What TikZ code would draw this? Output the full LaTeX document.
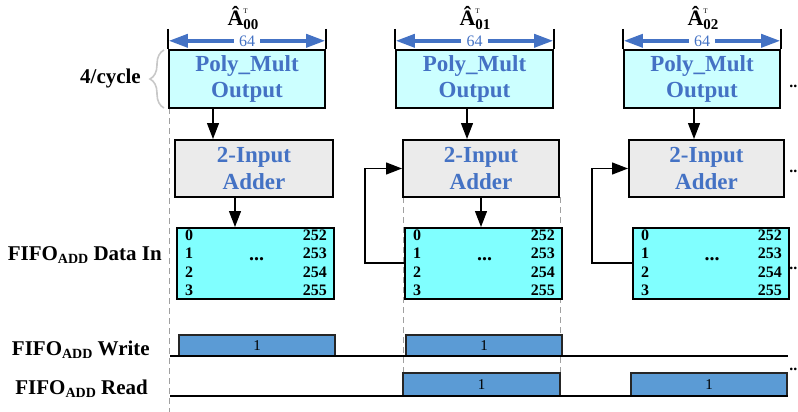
\documentclass[tikz,border=0pt]{standalone}
\usepackage{fontspec}
\setmainfont{Liberation Serif}
\usetikzlibrary{arrows.meta,calc,decorations.pathreplacing}
\definecolor{tblue}{HTML}{4472C4}
\definecolor{polyfill}{HTML}{CCFFFF}
\definecolor{addfill}{HTML}{EBEBEB}
\definecolor{fifofill}{HTML}{80FFFF}
\definecolor{pulsefill}{HTML}{5B9BD5}
\definecolor{dashgray}{HTML}{A0A0A0}
\definecolor{bracegray}{HTML}{C8C8C8}
\newcommand\subADD{\raisebox{-0.3ex}{\fontsize{14}{14}\selectfont ADD}}
\newcommand\Ahat[1]{Â\makebox[0pt][l]{\raisebox{1.2ex}{\fontsize{7}{7}\selectfont\mdseries T}}\raisebox{-0.45ex}{\fontsize{15}{15}\selectfont #1}}
\begin{document}
\begin{tikzpicture}[x=1pt,y=-1pt,
  polybox/.style={draw=black, line width=2.4pt, fill=polyfill, minimum height=58pt, inner sep=0pt, align=center, font=\fontsize{23}{26}\selectfont\bfseries, text=tblue},
  addbox/.style={draw=black, line width=2pt, fill=addfill, minimum height=57pt, inner sep=0pt, align=center, font=\fontsize{23}{27}\selectfont\bfseries, text=tblue},
  fifobox/.style={draw=black, line width=2pt, fill=fifofill, minimum height=71pt, inner sep=0pt},
  fifonum/.style={font=\fontsize{16}{16}\selectfont\bfseries, inner sep=0pt},
  fifodots/.style={font=\fontsize{20}{20}\selectfont\bfseries, inner sep=0pt},
  pulse/.style={draw=black!85, line width=1.2pt, fill=pulsefill, inner sep=0pt, font=\fontsize{15}{15}\selectfont},
  sidelabel/.style={font=\fontsize{21}{21}\selectfont\bfseries, inner sep=0pt, anchor=east},
  toplabel/.style={font=\fontsize{22}{22}\selectfont\bfseries, inner sep=0pt},
  ext/.style={line width=2.4pt},
  dimarrow/.style={draw=tblue, line width=3.5pt, -{Triangle[length=19pt,width=13pt]}},
  dimtext/.style={text=tblue, font=\fontsize{16}{16}\selectfont, inner sep=1pt},
  flow/.style={line width=1.3pt, -{Triangle[length=16pt,width=12pt]}},
  dashline/.style={draw=dashgray, line width=1pt, dash pattern=on 6pt off 4pt},
  baseline/.style={line width=1.8pt},
  dots/.style={font=\fontsize{16}{16}\selectfont\bfseries, inner sep=0pt, anchor=east}
]
\useasboundingbox (0,0) rectangle (798,412);

% dashed guide lines
\coordinate (d1t) at (169,108);
\coordinate (d1b) at (169,412);
\draw[dashline] (d1t) -- (d1b);
\coordinate (d2t) at (403,197);
\coordinate (d2b) at (403,396);
\coordinate (d3t) at (560,197);
\coordinate (d3b) at (560,396);
\draw[dashline] (d2t) -- (d2b);
\draw[dashline] (d3t) -- (d3b);

% top labels
\node[toplabel] (t1) at (243,18) {\Ahat{00}};
\node[toplabel] (t2) at (475,18) {\Ahat{01}};
\node[toplabel] (t3) at (703,18) {\Ahat{02}};

% poly mult boxes
\node[polybox, minimum width=156pt] (p1) at (247,79) {Poly\_Mult\\Output};
\node[polybox, minimum width=157pt] (p2) at (474.5,79) {Poly\_Mult\\Output};
\node[polybox, minimum width=156pt] (p3) at (702,79) {Poly\_Mult\\Output};

% extension lines and dimension arrows
\foreach \p/\n in {p1/1,p2/2,p3/3}{
  \coordinate (el\n) at ($(\p.north west)+(0,-20)$);
  \coordinate (er\n) at ($(\p.north east)+(0,-20)$);
  \draw[ext] (el\n) -- (\p.north west);
  \draw[ext] (er\n) -- (\p.north east);
  \node[dimtext] (dim\n) at ($(\p.north)+(0,-8)$) {64};
  \coordinate (al\n) at ($(\p.north west)+(1,-8)$);
  \coordinate (ar\n) at ($(\p.north east)+(-1,-8)$);
  \draw[dimarrow] ($(dim\n.west)+(-4,0)$) -- (al\n);
  \draw[dimarrow] ($(dim\n.east)+(4,0)$) -- (ar\n);
}

% brace and 4/cycle
\coordinate (bb) at (164,108);
\coordinate (bt) at (164,50);
\draw[bracegray, line width=1.6pt, decorate, decoration={brace, amplitude=14pt, aspect=0.5}] (bb) -- (bt);
\node[sidelabel] (cyc) at (141,78) {4/cycle};

% adders
\node[addbox, minimum width=158pt] (a1) at (254,168.5) {2-Input\\Adder};
\node[addbox, minimum width=156pt] (a2) at (481,168.5) {2-Input\\Adder};
\node[addbox, minimum width=155pt] (a3) at (706.5,168.5) {2-Input\\Adder};

% fifos
\node[fifobox, minimum width=157pt] (f1) at (255.5,263.5) {};
\node[fifobox, minimum width=157pt] (f2) at (483.5,263.5) {};
\node[fifobox, minimum width=156pt] (f3) at (711,263.5) {};
\foreach \f in {f1,f2,f3}{
  \foreach \na/\nb/\dy [count=\i] in {0/252/8,1/253/26,2/254/45,3/255/63}{
    \node[fifonum, anchor=west] (\f l\i) at ($(\f.north west)+(9,\dy)$) {\na};
    \node[fifonum, anchor=east] (\f r\i) at ($(\f.north east)+(-8,\dy)$) {\nb};
  }
  \node[fifodots] (\f dots) at ($(\f.center)+(1,-4)$) {...};
}

% flow arrows
\draw[flow] (p1.south -| 213,0) -- (a1.north -| 213,0);
\draw[flow] (p2.south -| 467,0) -- (a2.north -| 467,0);
\draw[flow] (p3.south -| 694,0) -- (a3.north -| 694,0);
\draw[flow] (a1.south -| 235,0) -- (f1.north -| 235,0);
\draw[flow] (a2.south -| 481,0) -- (f2.north -| 481,0);

% feedback
\coordinate (fb2) at (365,263);
\coordinate (fb3) at (592,263);
\draw[flow] (f2.west |- fb2) -- (fb2) -- (fb2 |- a2.west) -- (a2.west);
\draw[flow] (f3.west |- fb3) -- (fb3) -- (fb3 |- a3.west) -- (a3.west);

% side labels
\node[sidelabel] (ldi) at (162,255) {FIFO\subADD{} Data In};
\node[sidelabel] (lw) at (150,350) {FIFO\subADD{} Write};
\node[sidelabel] (lr) at (148,389) {FIFO\subADD{} Read};

% timing
\coordinate (ws) at (170,356);
\coordinate (we) at (788,356);
\coordinate (rs) at (170,396);
\coordinate (re) at (788,396);
\node[pulse, minimum width=156pt, minimum height=21pt] (w1) at (257,345.5) {1};
\node[pulse, minimum width=156pt, minimum height=21pt] (w2) at (484,345.5) {1};
\node[pulse, minimum width=157pt, minimum height=23pt] (r1) at (481.5,384.5) {1};
\node[pulse, minimum width=156pt, minimum height=23pt] (r2) at (709,384.5) {1};
\draw[baseline] (ws) -- (we);
\draw[baseline] (rs) -- (re);

% continuation dots
\node[dots] (c1) at (797.5,86) {..};
\node[dots] (c2) at (797.5,171) {..};
\node[dots] (c3) at (797.5,268) {..};
\node[dots] (c4) at (797.5,369) {..};
\end{tikzpicture}
\end{document}
